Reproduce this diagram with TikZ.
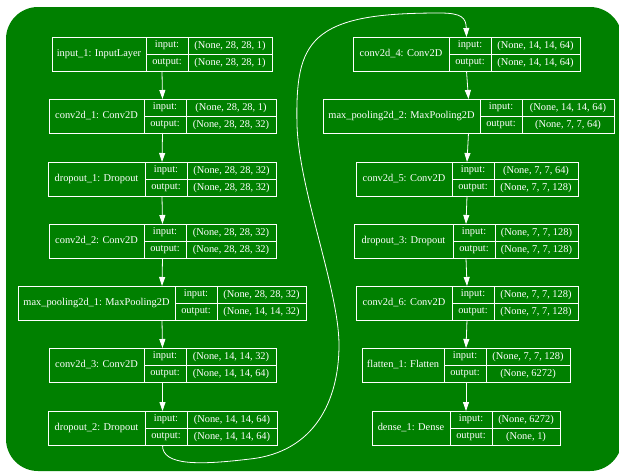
\documentclass[tikz,border=0pt]{standalone}
\usepackage{fontspec}
\setmainfont{Liberation Serif}
\usetikzlibrary{positioning,calc,arrows.meta}
\definecolor{kgreen}{RGB}{0,128,0}
\tikzstyle{cell} = [draw=white,text=white,line width=.8pt,inner sep=0,
                    outer sep=0,minimum height=17pt,anchor=north west,
                    font=\fontsize{10.4}{12}\selectfont]
\tikzstyle{flow} = [white,line width=.8pt]

% one keras layer: name, left, top, label width, value width, label, in, out
\newcommand{\layerbox}[8]{%
  \node[cell,minimum width=#4pt,minimum height=34pt] (#1) at (#2,#3) {#6};
  \node[cell,minimum width=42pt] (#1-ik) at (#1.north east) {input:};
  \node[cell,minimum width=42pt] (#1-ok) at (#1-ik.south west) {output:};
  \node[cell,minimum width=#5pt] (#1-iv) at (#1-ik.north east) {#7};
  \node[cell,minimum width=#5pt] (#1-ov) at (#1-ok.north east) {#8};
  \coordinate (#1-n) at ($(#1.north west)!.5!(#1-iv.north east)$);
  \coordinate (#1-s) at ($(#1.south west)!.5!(#1-ov.south east)$);
}

\begin{document}
\begin{tikzpicture}[
      x=1pt,y=-1pt,
      >={Triangle[width=6pt,length=9pt]}]

     \useasboundingbox (0,0) rectangle (619,472);
     \fill[kgreen,rounded corners=32pt] (6,7) rectangle (622,471);

     % left column
     \layerbox{input1}{52}{37}{94}{84}{input\_1: InputLayer}{(None, 28, 28, 1)}{(None, 28, 28, 1)}
     \layerbox{conv1}{49}{99}{95}{90}{conv2d\_1: Conv2D}{(None, 28, 28, 1)}{(None, 28, 28, 32)}
     \layerbox{drop1}{48}{162}{97}{89}{dropout\_1: Dropout}{(None, 28, 28, 32)}{(None, 28, 28, 32)}
     \layerbox{conv2}{49}{224}{95}{90}{conv2d\_2: Conv2D}{(None, 28, 28, 32)}{(None, 28, 28, 32)}
     \layerbox{pool1}{18}{286}{157}{89}{max\_pooling2d\_1: MaxPooling2D}{(None, 28, 28, 32)}{(None, 14, 14, 32)}
     \layerbox{conv3}{49}{348}{95}{90}{conv2d\_3: Conv2D}{(None, 14, 14, 32)}{(None, 14, 14, 64)}
     \layerbox{drop2}{48}{411}{97}{90}{dropout\_2: Dropout}{(None, 14, 14, 64)}{(None, 14, 14, 64)}

     % right column
     \layerbox{conv4}{353}{37}{96}{89}{conv2d\_4: Conv2D}{(None, 14, 14, 64)}{(None, 14, 14, 64)}
     \layerbox{pool2}{323}{99}{157}{92}{max\_pooling2d\_2: MaxPooling2D}{(None, 14, 14, 64)}{(None, 7, 7, 64)}
     \layerbox{conv5}{356}{162}{96}{84}{conv2d\_5: Conv2D}{(None, 7, 7, 64)}{(None, 7, 7, 128)}
     \layerbox{drop3}{354}{224}{99}{83}{dropout\_3: Dropout}{(None, 7, 7, 128)}{(None, 7, 7, 128)}
     \layerbox{conv6}{356}{286}{96}{84}{conv2d\_6: Conv2D}{(None, 7, 7, 128)}{(None, 7, 7, 128)}
     \layerbox{flat1}{362}{348}{82}{84}{flatten\_1: Flatten}{(None, 7, 7, 128)}{(None, 6272)}
     \layerbox{dense1}{372}{411}{78}{68}{dense\_1: Dense}{(None, 6272)}{(None, 1)}

     \path[->,flow]
       (input1-s) edge (conv1-n)
       (conv1-s)  edge (drop1-n)
       (drop1-s)  edge (conv2-n)
       (conv2-s)  edge (pool1-n)
       (pool1-s)  edge (conv3-n)
       (conv3-s)  edge (drop2-n)
       (conv4-s)  edge (pool2-n)
       (pool2-s)  edge (conv5-n)
       (conv5-s)  edge (drop3-n)
       (drop3-s)  edge (conv6-n)
       (conv6-s)  edge (flat1-n)
       (flat1-s)  edge (dense1-n)
       ;

     % the long way round, bottom left to top right
     \draw[->,flow] (drop2-s)
         .. controls (162,466) and (200,465) .. (250,459)
         .. controls (315,452) and (339,400) .. (339,345)
         .. controls (339,290) and (299,190) .. (297,125)
         .. controls (296,80) and (300,55) .. (318,38)
         .. controls (340,18) and (380,13) .. (440,13)
         .. controls (462,13) and (466,18) .. (conv4-n);

  \end{tikzpicture}
\end{document}
